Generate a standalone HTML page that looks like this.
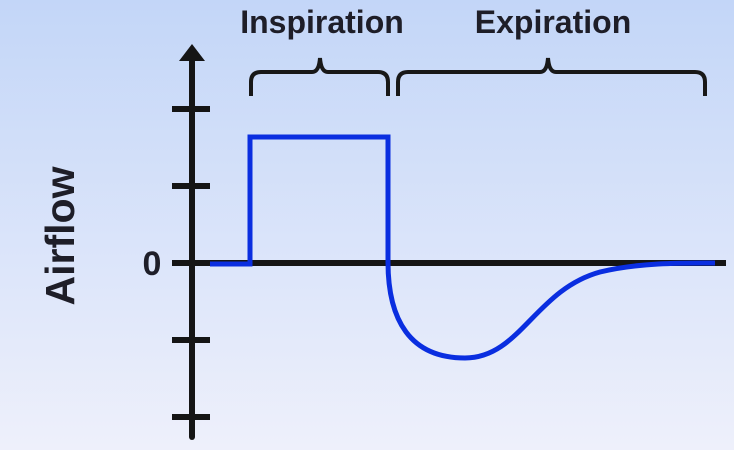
<!DOCTYPE html>
<html><head><style>
html,body{margin:0;padding:0;}
body{width:734px;height:450px;overflow:hidden;background:linear-gradient(#c3d6f8,#eef0fb);}
</style></head><body>
<svg width="734" height="450" xmlns="http://www.w3.org/2000/svg" style="position:absolute;left:0;top:0">
<g font-family="Liberation Sans, sans-serif" font-weight="bold" fill="#1e1e28">
<text x="322" y="33" font-size="32" text-anchor="middle">Inspiration</text>
<text x="553" y="33" font-size="32" text-anchor="middle">Expiration</text>
<text x="152" y="275" font-size="34" text-anchor="middle">0</text>
<text transform="translate(74,236) rotate(-90)" font-size="41" text-anchor="middle">Airflow</text>
</g>
<g stroke="#181818" stroke-width="4" fill="none">
<path d="M251 96 V82 Q251 72 261 72 H312 Q319 72 320 58 Q321 72 328 72 H378 Q388 72 388 82 V96"/>
<path d="M398 96 V82 Q398 72 408 72 H540 Q547 72 548 58 Q549 72 556 72 H695 Q705 72 705 82 V96"/>
</g>
<g stroke="#151515" stroke-width="6">
<line x1="192" y1="58" x2="192" y2="437" stroke-linecap="round"/>
<line x1="172" y1="109" x2="210" y2="109"/>
<line x1="172" y1="186" x2="210" y2="186"/>
<line x1="172" y1="263" x2="726" y2="263"/>
<line x1="172" y1="340" x2="210" y2="340"/>
<line x1="172" y1="417" x2="210" y2="417"/>
</g>
<polygon points="192,44 179,61 205,61" fill="#151515"/>
<path d="M210 264 H250 V137 H388 V262 C388 320 410 358 465 358 C520 358 535 290 600 272 C640 262 690 263 715 263" stroke="#0a2ee0" stroke-width="5" fill="none"/>
</svg>
</body></html>
